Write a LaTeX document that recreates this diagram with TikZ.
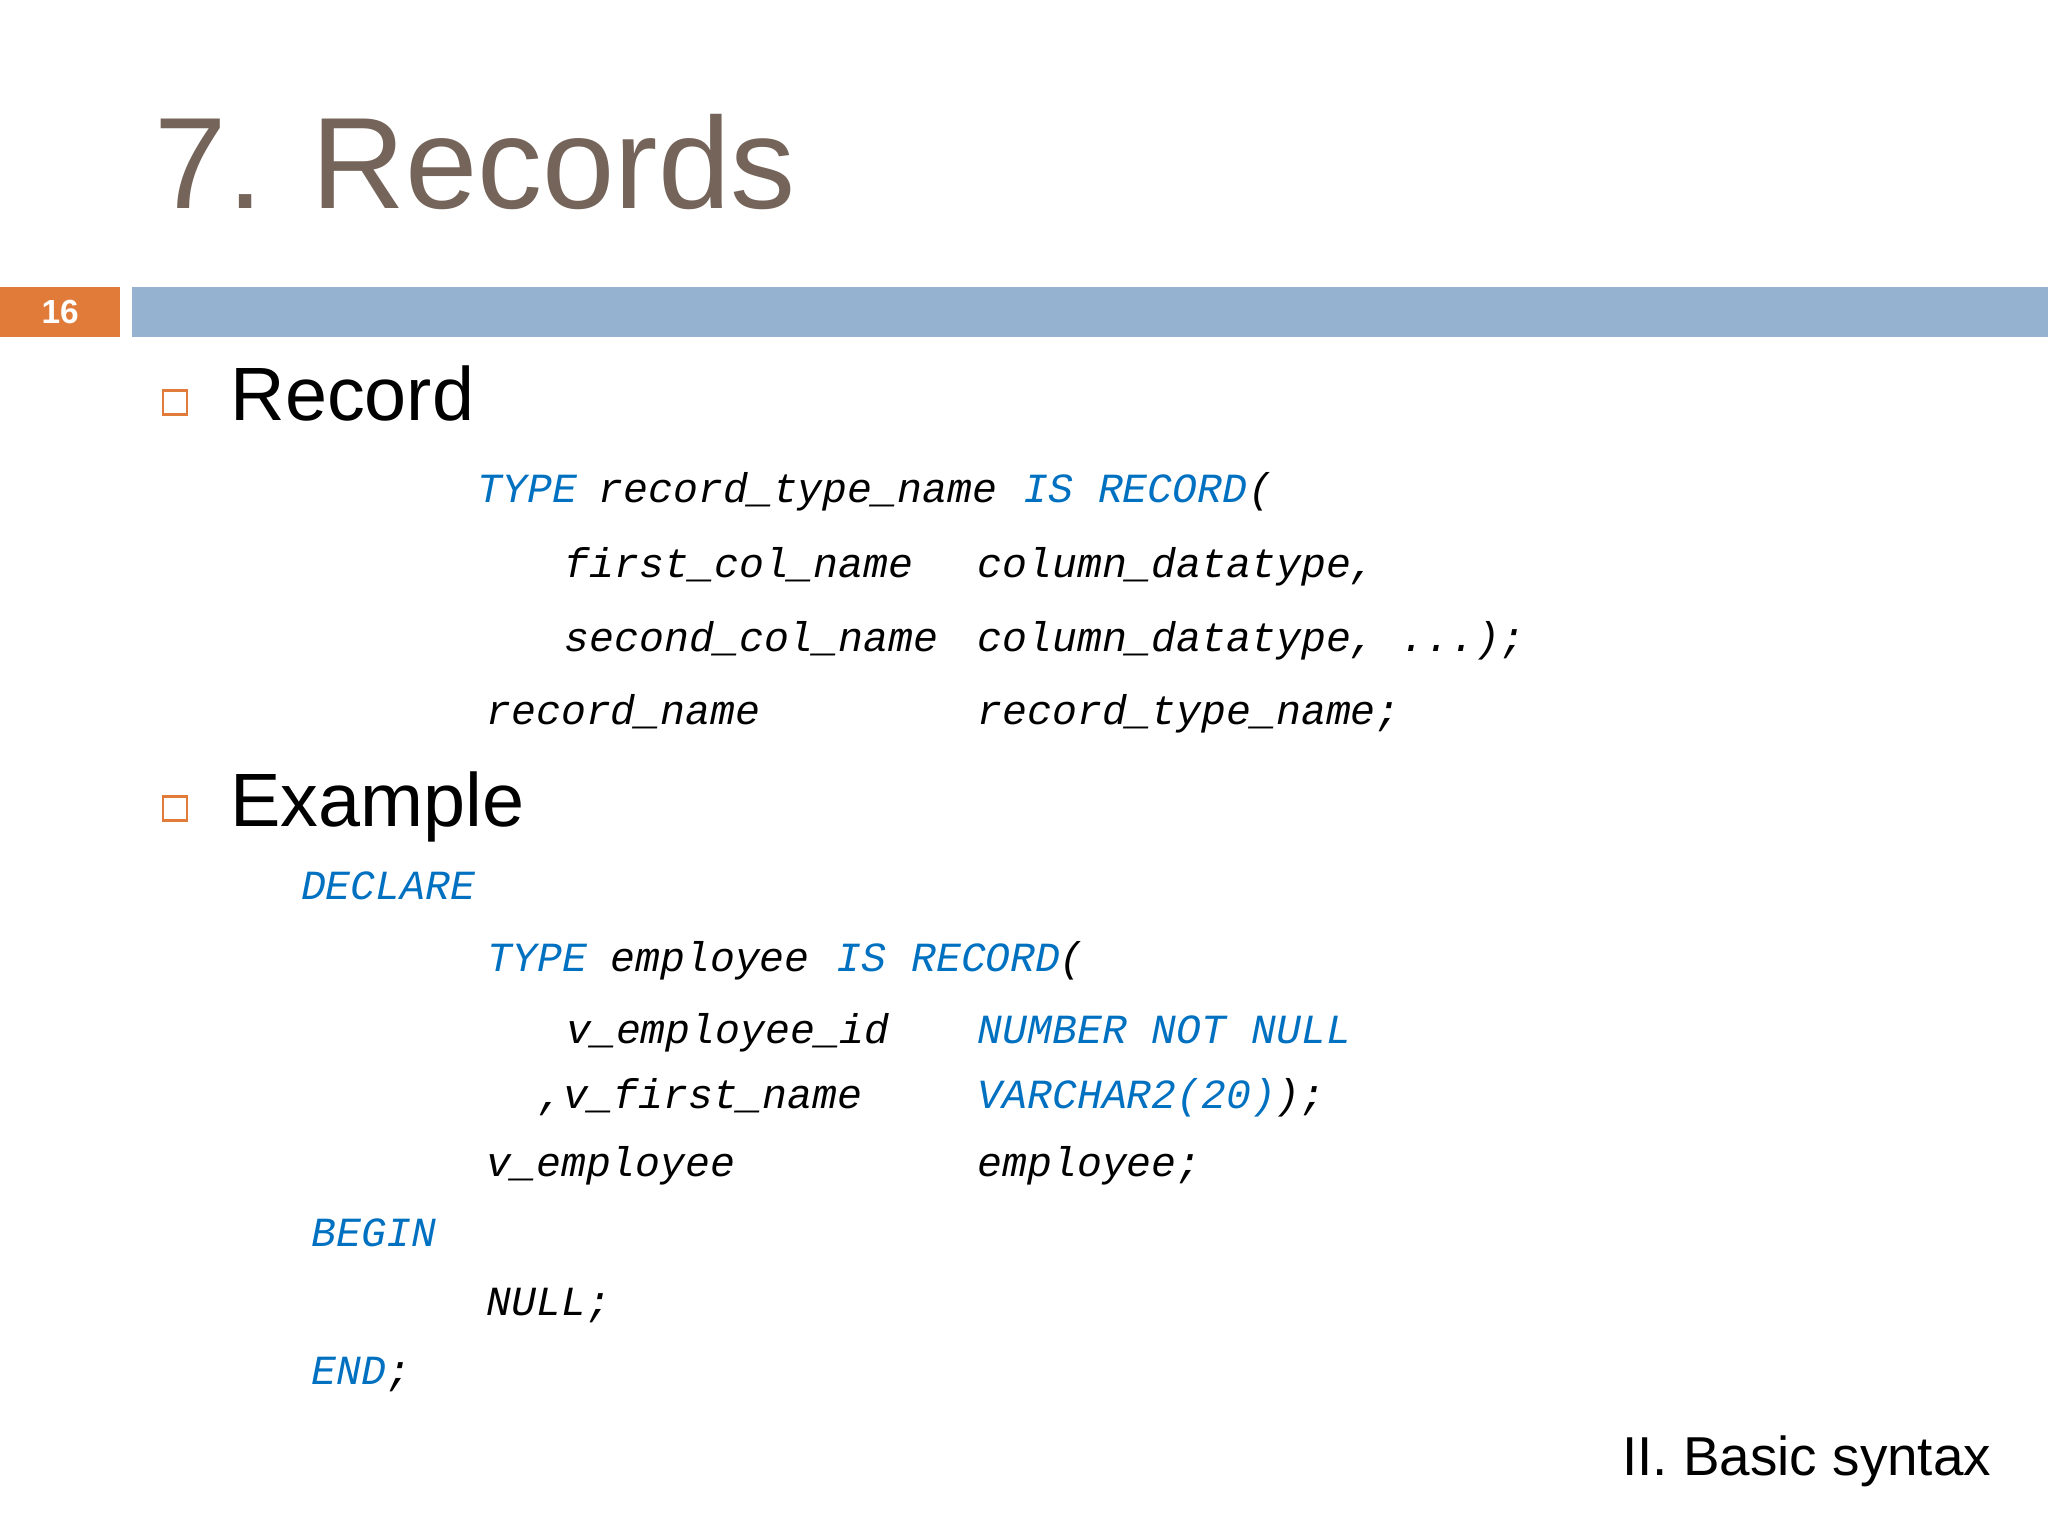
\documentclass[tikz,border=0pt]{standalone}
\usepackage{fontspec}
\setmainfont{Liberation Sans}
\setmonofont{Liberation Mono}
\begin{document}
\begin{tikzpicture}[x=0.01306cm,y=-0.01306cm,
  code/.style={anchor=base west,inner sep=0,font=\ttfamily\itshape\fontsize{11.8pt}{12pt}\selectfont},
  kw/.style={code,text=kwblue},
  head/.style={anchor=base west,inner sep=0,font=\fontsize{21.5pt}{22pt}\selectfont},
  bul/.style={draw=orng,line width=0.8pt,minimum size=0.24cm,inner sep=0}]
\definecolor{kwblue}{RGB}{0,112,192}
\definecolor{orng}{RGB}{224,123,57}
\definecolor{barblue}{RGB}{149,179,208}
\definecolor{ttl}{RGB}{117,100,90}
\useasboundingbox[fill=white] (0,0) rectangle (1568,1176);
\node[anchor=base west,inner sep=0,text=ttl,font=\fontsize{37pt}{38pt}\selectfont] (title) at (118,160) {7. Records};
\fill[orng] (0,220) rectangle (92,258);
\node[text=white,font=\bfseries\fontsize{9.5pt}{10pt}\selectfont] (num) at (46,239) {16};
\fill[barblue] (101,220) rectangle (1568,258);
\node[bul] (b1) at (134,308) {};
\node[head] (h1) at (176,322) {Record};
\node[kw] (l1) at (365,385) {TYPE};
\node[code] (l1b) at (458,385) {record\_type\_name};
\node[kw] (l1c) at (783,385) {IS RECORD};
\node[code] (l1d) at (955,385) {(};
\node[code] (l2) at (432,442) {first\_col\_name};
\node[code] (l2b) at (748,442) {column\_datatype,};
\node[code] (l3) at (432,499) {second\_col\_name};
\node[code] (l3b) at (748,499) {column\_datatype, ...);};
\node[code] (l4) at (372,555) {record\_name};
\node[code] (l4b) at (748,555) {record\_type\_name;};
\node[bul] (b2) at (134,619) {};
\node[head] (h2) at (176,633) {Example};
\node[kw] (e1) at (230,689) {DECLARE};
\node[kw] (e2) at (373,744) {TYPE};
\node[code] (e2b) at (467,744) {employee};
\node[kw] (e2c) at (640,744) {IS RECORD};
\node[code] (e2d) at (811,744) {(};
\node[code] (e3) at (433,799) {v\_employee\_id};
\node[kw] (e3b) at (748,799) {NUMBER NOT NULL};
\node[code] (e4) at (412,849) {,v\_first\_name};
\node[kw] (e4b) at (748,849) {VARCHAR2(20)};
\node[code] (e4c) at (976,849) {);};
\node[code] (e5) at (372,901) {v\_employee};
\node[code] (e5b) at (748,901) {employee;};
\node[kw] (e6) at (238,954) {BEGIN};
\node[code] (e7) at (372,1007) {NULL;};
\node[kw] (e8) at (238,1060) {END};
\node[code] (e8b) at (295,1060) {;};
\node[anchor=base east,inner sep=0,font=\fontsize{15.6pt}{16pt}\selectfont] (foot) at (1525,1130) {II. Basic syntax};
\end{tikzpicture}
\end{document}
